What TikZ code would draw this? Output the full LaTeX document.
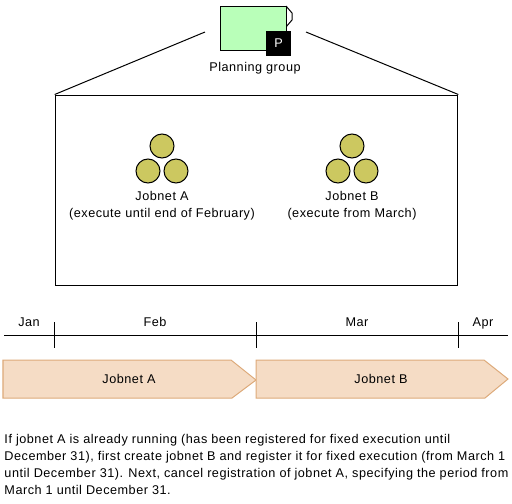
\documentclass[tikz,border=0pt]{standalone}
\usepackage{fontspec}
\setmainfont[LetterSpace=4]{Liberation Sans}
\definecolor{groupgreen}{HTML}{B9FFB9}
\definecolor{ballfill}{HTML}{CCC860}
\definecolor{barfill}{HTML}{F5DCC5}
\definecolor{baredge}{HTML}{DDAA7A}
\tikzset{
  label/.style={font=\fontsize{9.5}{12.75}\selectfont, inner sep=0pt, align=center},
  month/.style={label, anchor=base},
  ball/.style={circle, draw, fill=ballfill, minimum size=18pt, inner sep=0pt},
  bar/.style={draw=baredge, fill=barfill, line width=0.75pt}
}
\begin{document}
\begin{tikzpicture}[x=0.75pt, y=-0.75pt, line width=0.75pt]
  \useasboundingbox (0,0) rectangle (512,504);
  % planning group
  \draw[fill=white] (286,6) -- (292,13) -- (292,20) -- (286,27);
  \draw[fill=groupgreen] (220,6) rectangle (286,50);
  \node[fill=black, text=white, minimum size=18.5pt, inner sep=0pt, font=\fontsize{9.5}{12}\selectfont] (badge) at (278.5,43.5) {P};
  \node[month] (group) at (255,71) {Planning group};
  % frame
  \node[draw, minimum width=302pt, minimum height=142.5pt, inner sep=0pt] (frame) at (256.5,190) {};
  \coordinate (fanl) at (205,32);
  \coordinate (fanr) at (306,32);
  \draw (frame.north west) -- (fanl);
  \draw (frame.north east) -- (fanr);
  % jobnet A
  \node[ball] (a1) at (162,146) {};
  \node[ball] (a2) at (148,171) {};
  \node[ball] (a3) at (176,171) {};
  \node[label] (alabel) at (162,205.5) {Jobnet A\\(execute until end of February)};
  % jobnet B
  \node[ball] (b1) at (352,146) {};
  \node[ball] (b2) at (338,171) {};
  \node[ball] (b3) at (366,171) {};
  \node[label] (blabel) at (352,205.5) {Jobnet B\\(execute from March)};
  % time line
  \draw (4,335) -- (508,335);
  \foreach \x in {54,256,458}
    \draw (\x,322) -- (\x,348);
  \node[month] (jan) at (29,326) {Jan};
  \node[month] (feb) at (155,326) {Feb};
  \node[month] (mar) at (357,326) {Mar};
  \node[month] (apr) at (483,326) {Apr};
  % bars
  \draw[bar] (3,360) -- (231,360) -- (256,380) -- (232,398) -- (3,398) -- cycle;
  \draw[bar] (256,360) -- (484,360) -- (508,379) -- (485,398) -- (256,398) -- cycle;
  \node[month] (barA) at (129,383) {Jobnet A};
  \node[month] (barB) at (381,383) {Jobnet B};
  % note
  \node[label, align=left, anchor=north west] (note) at (4,434) {If jobnet A is already running (has been registered for fixed execution until\\
    December 31), first create jobnet B and register it for fixed execution (from March 1\\
    until December 31). Next, cancel registration of jobnet A, specifying the period from\\
    March 1 until December 31.};
\end{tikzpicture}
\end{document}
